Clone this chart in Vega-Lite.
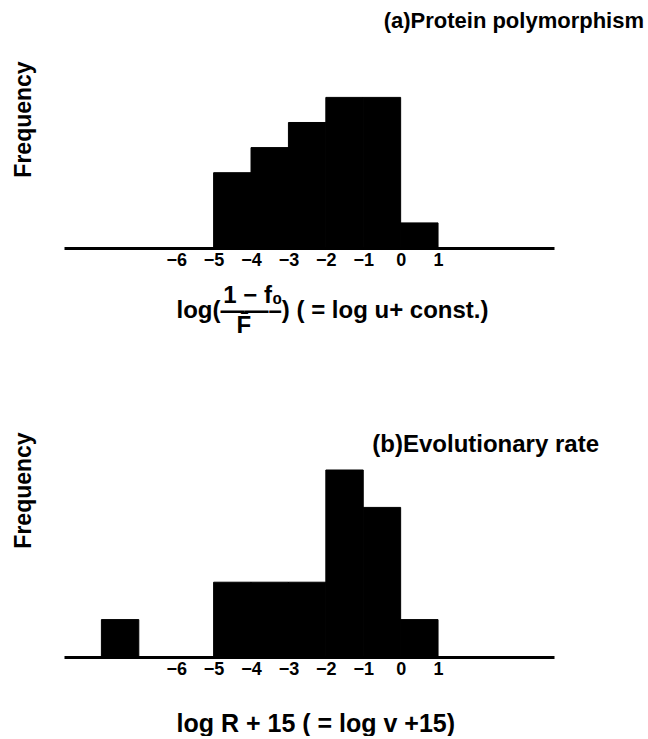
{
  "$schema": "https://vega.github.io/schema/vega-lite/v6.json",
  "padding": {"left": 11, "top": 10, "right": 0, "bottom": 0},
  "background": "white",
  "spacing": 93,
  "config": {
    "view": {"stroke": null},
    "font": "Liberation Sans",
    "axis": {"grid": false}
  },
  "vconcat": [
    {
      "width": 490,
      "height": 206,
      "title": {
        "text": "(a)Protein polymorphism",
        "anchor": "end",
        "frame": "group",
        "dx": 90,
        "offset": -8,
        "baseline": "alphabetic",
        "font": "Liberation Sans",
        "fontSize": 22,
        "fontWeight": "bold",
        "color": "black"
      },
      "data": {
        "values": [
          {"start": -5, "end": -4, "frequency": 3},
          {"start": -4, "end": -3, "frequency": 4},
          {"start": -3, "end": -2, "frequency": 5},
          {"start": -2, "end": -1, "frequency": 6},
          {"start": -1, "end": 0, "frequency": 6},
          {"start": 0, "end": 1, "frequency": 1}
        ]
      },
      "mark": {"type": "bar", "color": "black", "stroke": "black", "strokeWidth": 1},
      "encoding": {
        "x": {
          "field": "start",
          "type": "quantitative",
          "scale": {"domain": [-9, 4.1], "nice": false, "zero": false},
          "axis": {
            "values": [-6, -5, -4, -3, -2, -1, 0, 1],
            "ticks": false,
            "tickSize": 0,
            "domainColor": "black",
            "domainWidth": 3,
            "labelFont": "Liberation Sans",
            "labelFontWeight": "bold",
            "labelFontSize": 18,
            "labelColor": "black",
            "labelPadding": 3,
            "labelOverlap": false,
            "labelFlush": false,
            "title": [
              "\u200b\u00a0\u00a0\u00a0\u00a0\u00a0\u00a0\u00a01 − f₀",
              "log(——–) ( = log u+  const.)",
              "\u200b\u00a0\u00a0\u00a0\u00a0\u00a0\u00a0\u00a0\u00a0\u00a0F̄"
            ],
            "titleFont": "Liberation Sans",
            "titleFontWeight": "bold",
            "titleFontSize": 24,
            "titleLineHeight": 15,
            "titleColor": "black",
            "titleAlign": "left",
            "titleAnchor": "start",
            "titleBaseline": "alphabetic",
            "titleX": 112,
            "titleY": 54
          }
        },
        "x2": {"field": "end"},
        "y": {
          "field": "frequency",
          "type": "quantitative",
          "scale": {"domain": [0, 8.207], "nice": false},
          "axis": {
            "domain": false,
            "ticks": false,
            "labels": false,
            "title": "Frequency",
            "titleFont": "Liberation Sans",
            "titleFontWeight": "bold",
            "titleFontSize": 23,
            "titleColor": "black",
            "titleAngle": -90,
            "titleAlign": "center",
            "titleBaseline": "alphabetic",
            "titleX": -34,
            "titleY": 77
          }
        },
        "y2": {"datum": 0}
      }
    },
    {
      "width": 490,
      "height": 227,
      "title": {
        "text": "(b)Evolutionary rate",
        "anchor": "end",
        "frame": "group",
        "dx": 45,
        "offset": -46,
        "baseline": "alphabetic",
        "font": "Liberation Sans",
        "fontSize": 24,
        "fontWeight": "bold",
        "color": "black"
      },
      "data": {
        "values": [
          {"start": -8, "end": -7, "frequency": 1},
          {"start": -5, "end": -4, "frequency": 2},
          {"start": -4, "end": -3, "frequency": 2},
          {"start": -3, "end": -2, "frequency": 2},
          {"start": -2, "end": -1, "frequency": 5},
          {"start": -1, "end": 0, "frequency": 4},
          {"start": 0, "end": 1, "frequency": 1}
        ]
      },
      "mark": {"type": "bar", "color": "black", "stroke": "black", "strokeWidth": 1},
      "encoding": {
        "x": {
          "field": "start",
          "type": "quantitative",
          "scale": {"domain": [-9, 4.1], "nice": false, "zero": false},
          "axis": {
            "values": [-6, -5, -4, -3, -2, -1, 0, 1],
            "ticks": false,
            "tickSize": 0,
            "domainColor": "black",
            "domainWidth": 3,
            "labelFont": "Liberation Sans",
            "labelFontWeight": "bold",
            "labelFontSize": 18,
            "labelColor": "black",
            "labelPadding": 3,
            "labelOverlap": false,
            "labelFlush": false,
            "title": "log R + 15 ( = log v +15)",
            "titleFont": "Liberation Sans",
            "titleFontWeight": "bold",
            "titleFontSize": 25,
            "titleColor": "black",
            "titleAlign": "left",
            "titleAnchor": "start",
            "titleBaseline": "alphabetic",
            "titleX": 112,
            "titleY": 74
          }
        },
        "x2": {"field": "end"},
        "y": {
          "field": "frequency",
          "type": "quantitative",
          "scale": {"domain": [0, 6.07], "nice": false},
          "axis": {
            "domain": false,
            "ticks": false,
            "labels": false,
            "title": "Frequency",
            "titleFont": "Liberation Sans",
            "titleFontWeight": "bold",
            "titleFontSize": 23,
            "titleColor": "black",
            "titleAngle": -90,
            "titleAlign": "center",
            "titleBaseline": "alphabetic",
            "titleX": -34,
            "titleY": 60
          }
        },
        "y2": {"datum": 0}
      }
    }
  ]
}
